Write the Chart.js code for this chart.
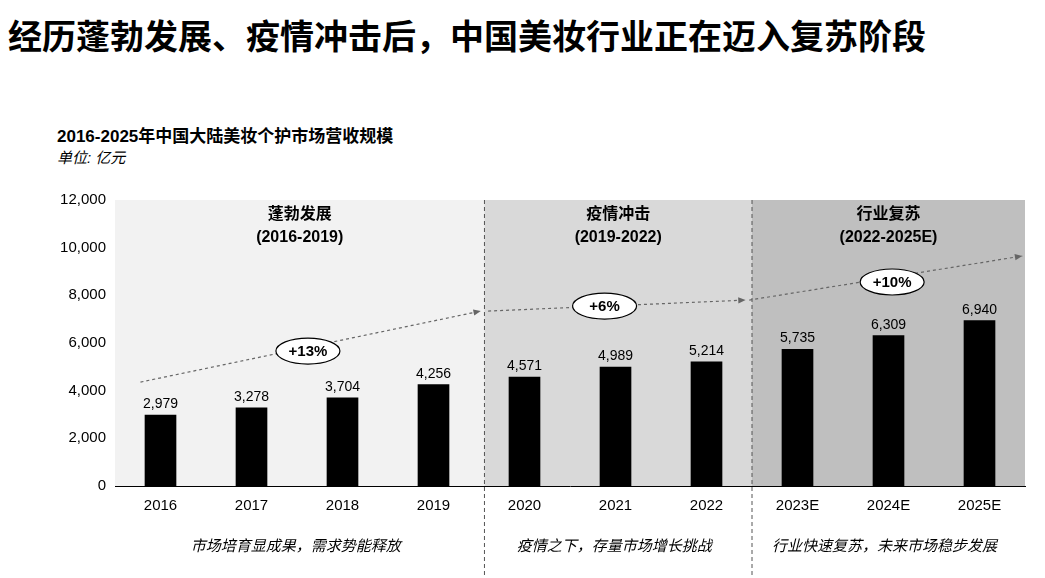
<!DOCTYPE html>
<html><head><meta charset="utf-8">
<script src="https://cdn.jsdelivr.net/npm/chart.js@4/dist/chart.umd.min.js"></script>
<style>
body{margin:0;width:1045px;height:578px;background:#fff;font-family:"Liberation Sans","Noto Sans CJK SC",sans-serif;position:relative;overflow:hidden}
#t{position:absolute;left:8px;top:10px;font-size:34px;font-weight:bold;color:#000}
#s{position:absolute;left:57px;top:122px;font-size:17px;font-weight:bold}
#u{position:absolute;left:57px;top:146px;font-size:15px;font-style:italic}
canvas{position:absolute;left:0;top:0}
</style></head><body>
<div id="t">经历蓬勃发展、疫情冲击后，中国美妆行业正在迈入复苏阶段</div>
<div id="s">2016-2025年中国大陆美妆个护市场营收规模</div>
<div id="u">单位: 亿元</div>
<canvas id="c" width="1045" height="578"></canvas>
<script>
const categories=["2016","2017","2018","2019","2020","2021","2022","2023E","2024E","2025E"];
const revenue=[2979,3278,3704,4256,4571,4989,5214,5735,6309,6940];
const yTicks=[0,2000,4000,6000,8000,10000,12000];
const phases=[{name:"蓬勃发展",range:"(2016-2019)",from:0,to:3.06,bg:"#f2f2f2",cap:"市场培育显成果，需求势能释放"},
{name:"疫情冲击",range:"(2019-2022)",from:4.06,to:6,bg:"#d9d9d9",cap:"疫情之下，存量市场增长挑战"},
{name:"行业复苏",range:"(2022-2025E)",from:7,to:9,bg:"#bfbfbf",cap:"行业快速复苏，未来市场稳步发展"}];
const trends=[[-0.22,4360,3.52,7340],[3.6,7340,6.43,7800],[6.47,7800,9.47,9650]];
const cagr=[{t:"+13%",x:1.62,y:5660},{t:"+6%",x:4.88,y:7550},{t:"+10%",x:8.04,y:8560}];
const F='"Liberation Sans","Noto Sans CJK SC",sans-serif';
const deco={id:"deco",
beforeDatasetsDraw(ch){const c=ch.ctx,x=ch.scales.x,y=ch.scales.y,a=ch.chartArea;const st=x.getPixelForValue(1)-x.getPixelForValue(0);
c.save();
phases.forEach((p,i)=>{let l=i==0?a.left:x.getPixelForValue(p.from)-st/2;let r=i==2?a.right:x.getPixelForValue(p.to)+st/2;
c.fillStyle=p.bg;c.fillRect(l,a.top,r-l,a.bottom-a.top);
c.fillStyle="#000";c.font="bold 16px "+F;c.textAlign="center";
c.fillText(p.name,(l+r)/2,a.top+19);c.fillText(p.range,(l+r)/2,a.top+42);
c.font="italic 15px "+F;c.fillText(p.cap,(l+r)/2-4,a.bottom+65);
if(i>0){c.strokeStyle="#555";c.lineWidth=1;c.setLineDash([4,3]);c.beginPath();c.moveTo(l,a.top);c.lineTo(l,578);c.stroke();c.setLineDash([]);}
});
trends.forEach(t=>{const x1=x.getPixelForValue(t[0]),y1=y.getPixelForValue(t[1]),x2=x.getPixelForValue(t[2]),y2=y.getPixelForValue(t[3]);
c.strokeStyle="#666";c.lineWidth=1.2;c.setLineDash([3,3]);c.beginPath();c.moveTo(x1,y1);c.lineTo(x2,y2);c.stroke();c.setLineDash([]);
const an=Math.atan2(y2-y1,x2-x1);c.fillStyle="#666";c.beginPath();c.moveTo(x2,y2);c.lineTo(x2-8*Math.cos(an-0.4),y2-8*Math.sin(an-0.4));c.lineTo(x2-8*Math.cos(an+0.4),y2-8*Math.sin(an+0.4));c.fill();});
cagr.forEach(o=>{const px=x.getPixelForValue(o.x),py=y.getPixelForValue(o.y);c.fillStyle="#fff";c.strokeStyle="#000";c.lineWidth=1.2;
c.beginPath();c.ellipse(px,py,32,13,0,0,Math.PI*2);c.fill();c.stroke();c.fillStyle="#000";c.font="bold 15px "+F;c.textAlign="center";c.textBaseline="middle";c.fillText(o.t,px,py+1);c.textBaseline="alphabetic";});
c.restore();},
afterDatasetsDraw(ch){const c=ch.ctx,m=ch.getDatasetMeta(0);c.save();c.fillStyle="#000";c.font="14px "+F;c.textAlign="center";
m.data.forEach((b,i)=>c.fillText(revenue[i].toLocaleString("en-US"),b.x,b.y-7));c.restore();}};
new Chart(document.getElementById("c"),{type:"bar",
data:{labels:categories,datasets:[{data:revenue,backgroundColor:"#000",barThickness:31}]},
options:{responsive:false,animation:false,layout:{padding:{top:200,right:20,bottom:62,left:0}},
plugins:{legend:{display:false},tooltip:{enabled:false}},
scales:{x:{grid:{display:false,drawTicks:true},border:{color:"#000"},ticks:{color:"#000",font:{size:15,family:F}},afterFit(s){s.height=30}},
y:{min:0,max:12000,afterBuildTicks(s){s.ticks=yTicks.map(v=>({value:v}))},grid:{display:false,drawTicks:true,tickLength:6,tickColor:"#000"},border:{color:"#000"},
ticks:{color:"#000",font:{size:15,family:F},callback:v=>v.toLocaleString("en-US")},afterFit(s){s.width=115}}}},
plugins:[deco]});
</script></body></html>
